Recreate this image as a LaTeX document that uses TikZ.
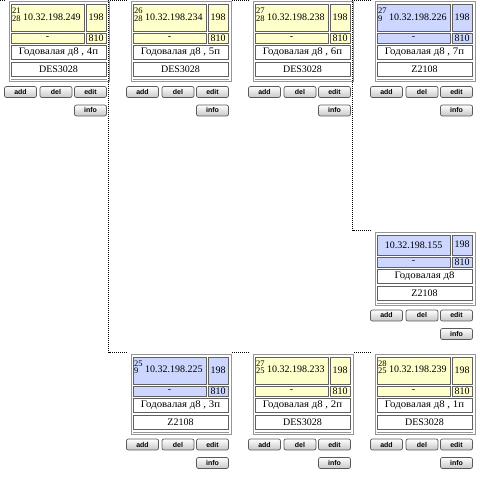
\documentclass[tikz,border=0pt]{standalone}
\usepackage{fontspec}
\setmainfont{Liberation Serif}
\newfontfamily\btnfont{Liberation Sans}
\usetikzlibrary{calc}
\definecolor{cellyellow}{RGB}{255,255,204}
\definecolor{cellblue}{RGB}{204,214,255}
\definecolor{cellline}{RGB}{96,96,96}
\definecolor{outerline}{RGB}{150,150,150}
\definecolor{btnline}{RGB}{90,90,90}
\tikzset{
  cellbox/.style={draw=cellline, line width=0.8pt},
  outerbox/.style={draw=outerline, line width=0.8pt},
  celltext/.style={inner sep=0pt, font=\fontsize{10}{11}\selectfont},
  smalltext/.style={inner sep=0pt, anchor=west, font=\fontsize{8.5}{9}\selectfont},
  btn/.style={draw=btnline, line width=0.7pt, rounded corners=2pt, top color=white, bottom color=black!22,
    minimum width=32pt, minimum height=11pt, inner sep=0pt, font=\btnfont\bfseries\fontsize{7}{8}\selectfont},
  link/.style={draw=black, line width=1pt, dash pattern=on 1pt off 1pt},
}
% #1 name, #2 x, #3 y, #4 fill, #5 small top, #6 small bottom, #7 ip, #8 address, #9 model
\newcommand\devcard[9]{%
  \begin{scope}[shift={(#2,#3)}]
    \if\relax\detokenize{#5}\relax\def\hA{20}\else\def\hA{27}\fi
    \pgfmathsetmacro\ra{3+\hA}
    \pgfmathsetmacro\rb{\ra+2}
    \pgfmathsetmacro\rc{\rb+10}
    \pgfmathsetmacro\rd{\rc+2}
    \pgfmathsetmacro\re{\rd+14}
    \pgfmathsetmacro\rf{\re+3}
    \pgfmathsetmacro\rg{\rf+14}
    \pgfmathsetmacro\rh{\rg+3}
    \pgfmathsetmacro\ri{\rg+5}
    \path[outerbox] (0,0) rectangle (100,\ri);
    \draw[outerline, line width=0.8pt] (2,\rh) -- (98,\rh);
    \path[cellbox, fill=#4] (2,3) rectangle (75,\ra);
    \path[cellbox, fill=#4] (77,3) rectangle (97,\ra);
    \path[cellbox, fill=#4] (2,\rb) rectangle (75,\rc);
    \path[cellbox, fill=#4] (77,\rb) rectangle (97,\rc);
    \path[cellbox, fill=white] (2,\rd) rectangle (97,\re);
    \path[cellbox, fill=white] (2,\rf) rectangle (97,\rg);
    \if\relax\detokenize{#5}\relax
      \node[celltext] (#1-ip) at (38.5,{(3+\ra)/2}) {#7};
    \else
      \node[smalltext] (#1-n1) at (3,9.5) {#5};
      \node[smalltext] (#1-n2) at (3,17) {#6};
      \node[celltext, anchor=west] (#1-ip) at (14,{(3+\ra)/2-1}) {#7};
    \fi
    \node[celltext] (#1-port) at (87,{(3+\ra)/2-0.5}) {198};
    \node[celltext] (#1-dash) at (38.5,{(\rb+\rc)/2}) {-};
    \node[celltext] (#1-vlan) at (87,{(\rb+\rc)/2}) {810};
    \node[celltext] (#1-addr) at (49.5,{(\rd+\re)/2}) {\scalebox{1.08}[1]{#8}};
    \node[celltext] (#1-model) at (49.5,{(\rf+\rg)/2}) {#9};
    \node[btn] (#1-add) at (11.5,\ri+10.5) {add};
    \node[btn] (#1-del) at (47,\ri+10.5) {del};
    \node[btn] (#1-edit) at (81.5,\ri+10.5) {edit};
    \node[btn] (#1-info) at (81.5,\ri+29) {info};
    \coordinate (#1-in) at (-4,-1);
    \coordinate (#1-out) at (101,-1);
    \coordinate (#1-down) at (99.5,-1);
  \end{scope}}
\begin{document}
\begin{tikzpicture}[x=1pt,y=-1pt]
  \useasboundingbox[fill=white] (0,0) rectangle (480,478);
  \devcard{c1}{9}{1.5}{cellyellow}{21}{28}{10.32.198.249}{Годовалая д8 , 4п}{DES3028}
  \devcard{c2}{131}{1.5}{cellyellow}{26}{28}{10.32.198.234}{Годовалая д8 , 5п}{DES3028}
  \devcard{c3}{253}{1.5}{cellyellow}{27}{28}{10.32.198.238}{Годовалая д8 , 6п}{DES3028}
  \devcard{c4}{375}{1.5}{cellblue}{27}{9}{10.32.198.226}{Годовалая д8 , 7п}{Z2108}
  \devcard{c5}{375}{232}{cellblue}{}{}{10.32.198.155}{Годовалая д8}{Z2108}
  \devcard{c6}{131}{354}{cellblue}{25}{9}{10.32.198.225}{Годовалая д8 , 3п}{Z2108}
  \devcard{c7}{253}{354}{cellyellow}{27}{25}{10.32.198.233}{Годовалая д8 , 2п}{DES3028}
  \devcard{c8}{375}{354}{cellyellow}{28}{25}{10.32.198.239}{Годовалая д8 , 1п}{DES3028}
  \coordinate (start) at (0,0.5);
  \draw[link] (start) -- (c1-in);
  \draw[link] (c1-out) -- (c2-in);
  \draw[link] (c2-out) -- (c3-in);
  \draw[link] (c3-out) -- (c4-in);
  \draw[link] (c1-down) |- (c6-in);
  \draw[link] (c3-down) |- (c5-in);
  \draw[link] (c6-out) -- (c7-in);
  \draw[link] (c7-out) -- (c8-in);
\end{tikzpicture}
\end{document}
